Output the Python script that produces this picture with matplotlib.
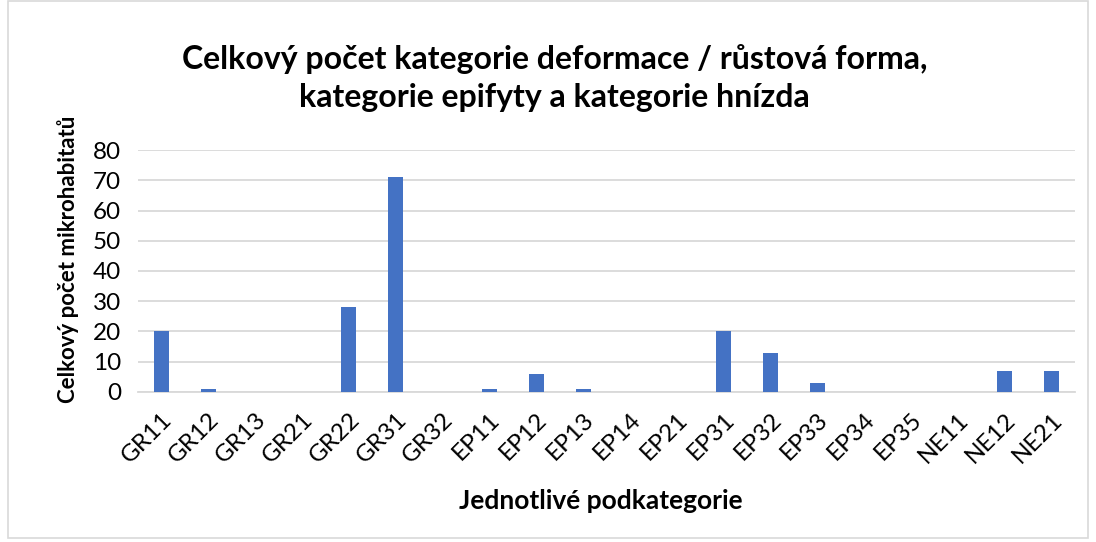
import numpy as np
import matplotlib
matplotlib.use("Agg")
import matplotlib.pyplot as plt
from matplotlib.patches import Rectangle

plt.rcParams['font.family'] = ['Lato', 'DejaVu Sans']

# data
categories = ['GR11', 'GR12', 'GR13', 'GR21', 'GR22', 'GR31', 'GR32',
              'EP11', 'EP12', 'EP13', 'EP14', 'EP21', 'EP31', 'EP32',
              'EP33', 'EP34', 'EP35', 'NE11', 'NE12', 'NE21']
counts = [20, 1, 0, 0, 28, 71, 0, 1, 6, 1, 0, 0, 20, 13, 3, 0, 0, 0, 7, 7]
yticks = [0, 10, 20, 30, 40, 50, 60, 70, 80]

fig = plt.figure(figsize=(10.96, 5.42), dpi=100)
ax = fig.add_axes([0.1259, 0.2768, 0.855, 0.4464])

x = np.arange(len(categories))
ax.bar(x, counts, width=0.32, color='#4472C4', zorder=3)

ax.set_xlim(-0.5, len(categories) - 0.5)
ax.set_ylim(0, 80)
ax.set_yticks(yticks)
ax.set_xticks(x)
ax.set_xticklabels(categories, rotation=45, ha='right', rotation_mode='anchor')
ax.tick_params(axis='both', length=0, labelsize=17.5, colors='#000000')
ax.tick_params(axis='x', pad=12)
ax.tick_params(axis='y', pad=12)
ax.grid(axis='y', color='#d9d9d9', linewidth=1.3, zorder=0)
for s in ['top', 'right', 'left']:
    ax.spines[s].set_visible(False)
ax.spines['bottom'].set_color('#d9d9d9')
ax.spines['bottom'].set_linewidth(1.3)

ax.set_ylabel('Celkový počet mikrohabitatů', fontsize=16, fontweight='bold')
ax.yaxis.set_label_coords(-0.063, 0.55)
fig.text(0.548, 0.075, 'Jednotlivé podkategorie', fontsize=19, fontweight='bold',
         ha='center', va='center')
fig.text(0.506, 0.856, 'Celkový počet kategorie deformace / růstová forma,\nkategorie epifyty a kategorie hnízda',
         fontsize=23, fontweight='bold', ha='center', va='center', linespacing=1.38)

fig.patches.append(Rectangle((0.007, 0.008), 0.986, 0.99, transform=fig.transFigure,
                             fill=False, edgecolor='#d9d9d9', linewidth=1.2))

fig.savefig('out.png', dpi=100)
